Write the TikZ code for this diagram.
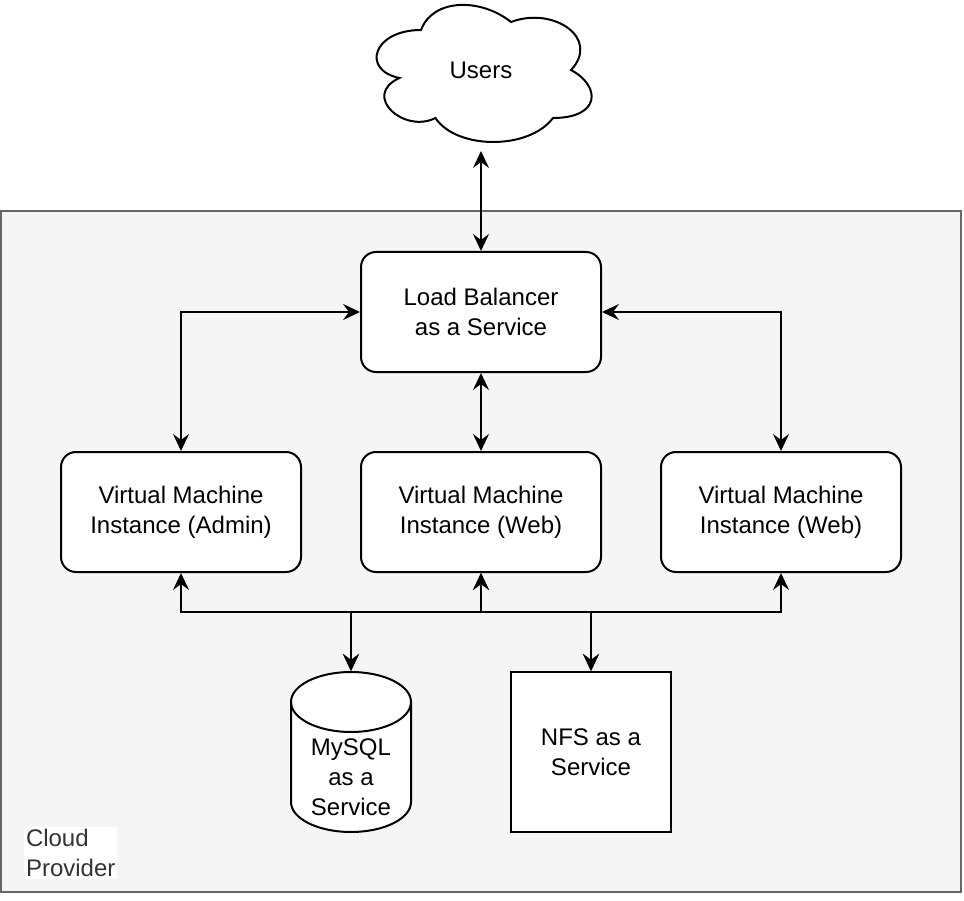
\documentclass[tikz,border=0pt]{standalone}
\usepackage{fontspec}
\setmainfont{Liberation Sans}
\usetikzlibrary{arrows.meta}
\definecolor{provfill}{HTML}{F5F5F5}
\definecolor{provline}{HTML}{666666}
\definecolor{labeltext}{HTML}{333333}
\begin{document}
\begin{tikzpicture}[x=1pt,y=-1pt,line width=2pt,
  every node/.style={font=\fontsize{24}{30}\selectfont,align=center,inner sep=0pt},
  box/.style={draw,fill=white,rounded corners=15pt,minimum width=240pt,minimum height=120pt},
  plainbox/.style={draw,fill=white,minimum width=160pt,minimum height=160pt},
  anchorbox/.style={minimum width=#1pt,minimum height=160pt},
  shapeline/.style={draw=black,fill=white,line width=2pt},
  link/.style={{Stealth[length=17pt,width=16pt,inset=6pt]}-{Stealth[length=17pt,width=16pt,inset=6pt]}}]
\useasboundingbox (0,0) rectangle (964,901);
% provider container
\draw[provline,fill=provfill] (1,211.5) rectangle (961,891.5);
\node[anchor=west,fill=white,text=labeltext,align=left,inner sep=2pt] (cp) at (23,853) {Cloud\\Provider};
% cloud
\draw[shapeline] (421,30) .. controls (373,30) and (361,70) .. (399.4,78)
  .. controls (361,95.6) and (404.2,134) .. (435.4,118)
  .. controls (457,150) and (529,150) .. (553,118)
  .. controls (601,118) and (601,86) .. (571,70)
  .. controls (601,38) and (553,6) .. (511,22)
  .. controls (481,-2) and (433,-2) .. (421,30) -- cycle;
\node[anchorbox=240] (users) at (481,70) {Users};
% boxes
\node[box] (lb) at (481,312) {Load Balancer\\as a Service};
\node[box] (vm1) at (181,512) {Virtual Machine\\Instance (Admin)};
\node[box] (vm2) at (481,512) {Virtual Machine\\Instance (Web)};
\node[box] (vm3) at (781,512) {Virtual Machine\\Instance (Web)};
% cylinder
\draw[shapeline] (291,702) -- (291,802) arc[start angle=180,end angle=360,x radius=60pt,y radius=30pt]
  -- (411,702) arc[start angle=0,end angle=180,x radius=60pt,y radius=30pt] -- cycle;
\draw (291,702) arc[start angle=180,end angle=360,x radius=60pt,y radius=30pt];
\node[anchorbox=120] (mysql) at (351,752) {};
\node (mysqltext) at (351,777) {MySQL\\as a\\Service};
\node[plainbox] (nfs) at (591,752) {NFS as a\\Service};
% connectors
\coordinate (bus) at (0,612);
\draw[link] (users.south) -- (lb.north);
\draw[link] (lb.west) -| (vm1.north);
\draw[link] (lb.east) -| (vm3.north);
\draw[link] (lb.south) -- (vm2.north);
\draw[link] (mysql.north) |- (bus -| vm1.south) -- (vm1.south);
\draw[link] (mysql.north) |- (bus -| vm2.south) -- (vm2.south);
\draw[link] (nfs.north) |- (bus -| vm2.south) -- (vm2.south);
\draw[link] (nfs.north) |- (bus -| vm3.south) -- (vm3.south);
\end{tikzpicture}
\end{document}
